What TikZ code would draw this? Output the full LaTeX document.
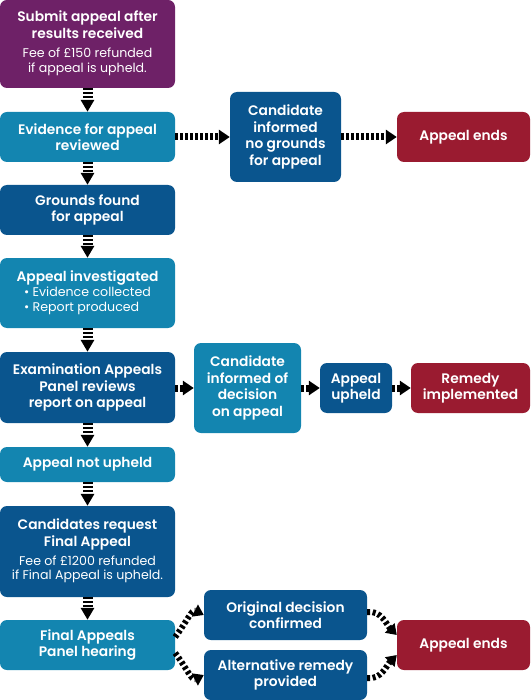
\documentclass[tikz,border=0pt]{standalone}
\usepackage{fontspec}
\setmainfont{Poppins}[BoldFont={* SemiBold}]
\usetikzlibrary{arrows.meta}

\definecolor{appealpurple}{HTML}{6E2167}
\definecolor{lightblue}{HTML}{1385B0}
\definecolor{darkblue}{HTML}{0A558E}
\definecolor{endred}{HTML}{9A1B30}

\newcommand{\headtxt}{\fontsize{13.8}{16.5}\selectfont\bfseries}
\newcommand{\smalltxt}{\fontsize{12.6}{14.8}\selectfont\mdseries}
\newcommand{\smallrows}[2][c]{{\smalltxt\begin{tabular}[t]{@{}#1@{}}#2\end{tabular}}}

\tikzset{
  box/.style={rounded corners=7pt, text=white, align=center, inner sep=0pt, font=\headtxt},
  varrow/.style={line width=10pt, dash pattern=on 2pt off 2pt, -{Triangle[length=12pt,width=13pt]}},
  harrow/.style={line width=7pt, dash pattern=on 3pt off 2pt, -{Triangle[length=11pt,width=14pt]}},
  carrow/.style={line width=6pt, dash pattern=on 3pt off 2.5pt, -{Triangle[length=10pt,width=13pt]}}
}

\begin{document}
\begin{tikzpicture}[x=1pt,y=-1pt]
\useasboundingbox (0,0) rectangle (530,700);

% Main column
\node [box, fill=appealpurple, minimum width=175pt, minimum height=88pt] (submit) at (87.5,44)
  {Submit appeal after\\results received\\[3pt]\smallrows{Fee of £150 refunded\\if appeal is upheld.}};
\node [box, fill=lightblue, minimum width=175pt, minimum height=50pt] (evidence) at (87.5,137)
  {Evidence for appeal\\reviewed};
\node [box, fill=darkblue, minimum width=175pt, minimum height=50pt] (grounds) at (87.5,210)
  {Grounds found\\for appeal};
\node [box, fill=lightblue, minimum width=175pt, minimum height=70pt] (investigated) at (87.5,293)
  {Appeal investigated\\[-1.5pt]\smallrows[l]{\textbullet\ Evidence collected\\\textbullet\ Report produced}};
\node [box, fill=darkblue, minimum width=175pt, minimum height=71pt] (panel) at (87.5,387.5)
  {Examination Appeals\\Panel reviews\\report on appeal};
\node [box, fill=lightblue, minimum width=175pt, minimum height=35pt] (notupheld) at (87.5,464.5)
  {Appeal not upheld};
\node [box, fill=darkblue, minimum width=175pt, minimum height=91pt] (request) at (87.5,551.5)
  {Candidates request\\Final Appeal\\[2.5pt]\smallrows{Fee of £1200 refunded\\if Final Appeal is upheld.}};
\node [box, fill=lightblue, minimum width=175pt, minimum height=50pt] (hearing) at (87.5,645)
  {Final Appeals\\Panel hearing};

% No grounds branch
\node [box, fill=darkblue, minimum width=111pt, minimum height=90pt] (nogrounds) at (285.5,137)
  {Candidate\\informed\\no grounds\\for appeal};
\node [box, fill=endred, minimum width=133pt, minimum height=50pt] (endsA) at (463.5,137)
  {Appeal ends};

% Upheld branch
\node [box, fill=lightblue, minimum width=107pt, minimum height=90pt] (decision) at (247.5,388)
  {Candidate\\informed of\\decision\\on appeal};
\node [box, fill=darkblue, minimum width=72pt, minimum height=50pt] (upheld) at (356,388)
  {Appeal\\upheld};
\node [box, fill=endred, minimum width=119pt, minimum height=50pt] (remedy) at (470.5,388)
  {Remedy\\implemented};

% Final appeal outcomes
\node [box, fill=darkblue, minimum width=163pt, minimum height=50pt] (confirmed) at (285.5,615)
  {Original decision\\confirmed};
\node [box, fill=darkblue, minimum width=163pt, minimum height=50pt] (alternative) at (285.5,675)
  {Alternative remedy\\provided};
\node [box, fill=endred, minimum width=133pt, minimum height=50pt] (endsB) at (463.5,645)
  {Appeal ends};

% Arrows down the column
\draw [varrow] (submit) -- (evidence);
\draw [varrow] (evidence) -- (grounds);
\draw [varrow] (grounds) -- (investigated);
\draw [varrow] (investigated) -- (panel);
\draw [varrow] (panel) -- (notupheld);
\draw [varrow] (notupheld) -- (request);
\draw [varrow] (request) -- (hearing);

% Arrows across
\draw [harrow] (evidence) -- (nogrounds);
\draw [harrow] (nogrounds) -- (endsA);
\draw [harrow] (panel.east |- decision) -- (decision);
\draw [harrow] (decision) -- (upheld);
\draw [harrow] (upheld) -- (remedy);

% Curved arrows
\draw [carrow] ([yshift=8pt]hearing.east) .. controls +(12,-16) and +(-12,-6) .. (confirmed.west);
\draw [carrow] ([yshift=-8pt]hearing.east) .. controls +(12,16) and +(-12,6) .. (alternative.west);
\draw [carrow] ([yshift=3pt]confirmed.east) .. controls +(14,-2) and +(-10,-10) .. ([yshift=10pt]endsB.west);
\draw [carrow] ([yshift=-3pt]alternative.east) .. controls +(14,2) and +(-10,10) .. ([yshift=-10pt]endsB.west);
\end{tikzpicture}
\end{document}
